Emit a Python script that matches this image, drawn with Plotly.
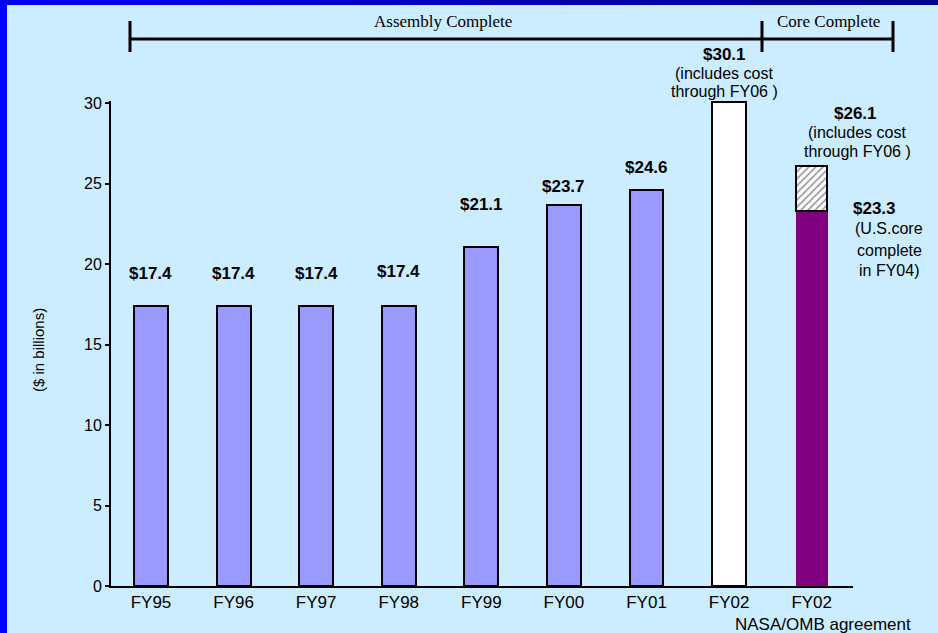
import plotly.graph_objects as go

# ---------------- data ----------------
categories = ["FY95", "FY96", "FY97", "FY98", "FY99", "FY00", "FY01", "FY02", "FY02"]
blue_values = [17.4, 17.4, 17.4, 17.4, 21.1, 23.7, 24.6]      # FY95..FY01
fy02_total = 30.1                                              # FY02 (includes cost through FY06)
agreement_core = 23.3                                          # FY02 NASA/OMB, U.S. core complete in FY04
agreement_total = 26.1                                         # FY02 NASA/OMB incl. cost through FY06
tick_values_y = [0, 5, 10, 15, 20, 25, 30]

# ---------------- layout geometry (pixels) ----------------
W, H = 938, 633
ML, MR, MT, MB = 111, 85, 101, 47
PW = W - ML - MR
PH = H - MT - MB
Y0 = H - MB


def px_x(px):
    return (px - ML) / PW


def px_y(py):
    return (Y0 - py) / PH


BG = "#CCECFF"
BAR_BLUE = "#9999FF"
PURPLE = "#800080"
FONT = "Arial, Liberation Sans, sans-serif"
SERIF = "Times New Roman, Liberation Serif, serif"

x_pos = list(range(len(categories)))

fig = go.Figure()

# FY95 - FY01
fig.add_trace(go.Bar(
    x=x_pos[:len(blue_values)], y=blue_values, width=0.41,
    marker=dict(color=BAR_BLUE, line=dict(color="black", width=2)),
    hoverinfo="skip", showlegend=False))

# FY02 (white)
fig.add_trace(go.Bar(
    x=[x_pos[7]], y=[fy02_total], width=0.41,
    marker=dict(color="white", line=dict(color="black", width=2)),
    hoverinfo="skip", showlegend=False))

# FY02 NASA/OMB agreement: purple core
fig.add_trace(go.Bar(
    x=[x_pos[8]], y=[agreement_core], width=0.39,
    marker=dict(color=PURPLE, line=dict(color=PURPLE, width=0)),
    hoverinfo="skip", showlegend=False))

# hatched part on top
fig.add_trace(go.Bar(
    x=[x_pos[8]], y=[agreement_total - agreement_core], base=[agreement_core], width=0.38,
    marker=dict(color="white", line=dict(color="black", width=2),
                pattern=dict(shape="/", fgcolor="#222222", bgcolor="white", size=5, solidity=0.3)),
    hoverinfo="skip", showlegend=False))

annotations = []


def txt(px, py, text, size=16, family=FONT, xanchor="center", angle=0):
    annotations.append(dict(
        x=px_x(px), y=px_y(py), xref="paper", yref="paper", text=text,
        showarrow=False, xanchor=xanchor, yanchor="middle", textangle=angle,
        font=dict(family=family, size=size, color="black")))


# value labels over blue bars (pixel offsets above bar top)
label_offsets = [33, 33, 33, 35, 42, 18, 23]
for i, v in enumerate(blue_values):
    annotations.append(dict(
        x=x_pos[i], y=v, xref="x", yref="y", text=f"<b>${v}</b>",
        showarrow=False, xanchor="center", yanchor="middle", yshift=label_offsets[i],
        font=dict(family=FONT, size=17, color="black")))

# FY02 label block
txt(724, 55, f"<b>${fy02_total}</b>", size=17)
txt(724, 73, "(includes cost")
txt(724, 91, "through FY06 )")

# agreement total label block
txt(855, 113, f"<b>${agreement_total}</b>", size=17)
txt(857, 132, "(includes cost")
txt(857, 152, "through FY06 )")

# agreement core label block
txt(874, 208, f"<b>${agreement_core}</b>", size=17)
txt(889, 229, "(U.S.core")
txt(889, 250, "complete")
txt(889, 270, "in FY04)")

# sub-caption under last category
txt(823, 624, "NASA/OMB agreement", size=17)

# y-axis title
txt(38, 350, "($ in billions)", size=15, angle=-90)

# bracket labels
txt(443, 22, "Assembly Complete", size=17, family=SERIF)
txt(828, 22, "Core Complete", size=17, family=SERIF)

shapes = []
# bracket
line_style = dict(color="black", width=3)
shapes.append(dict(type="line", xref="paper", yref="paper",
                   x0=px_x(130), x1=px_x(893), y0=px_y(39), y1=px_y(39), line=line_style))
for bx in (130, 762, 893):
    shapes.append(dict(type="line", xref="paper", yref="paper",
                       x0=px_x(bx), x1=px_x(bx), y0=px_y(21), y1=px_y(52), line=line_style))

# frame: left blue strip
shapes.append(dict(type="rect", xref="paper", yref="paper",
                   x0=px_x(-2), x1=px_x(7), y0=px_y(H + 5), y1=px_y(-5),
                   fillcolor="#0000FF", line=dict(width=0), layer="below"))
# frame: top gradient band
nseg = 40
for k in range(nseg):
    x0 = W * k / nseg
    x1 = W * (k + 1) / nseg + 1
    t = (k + 0.5) / nseg
    b = int(round(255 - t * (255 - 128)))
    shapes.append(dict(type="rect", xref="paper", yref="paper",
                       x0=px_x(x0), x1=px_x(x1), y0=px_y(5), y1=px_y(-5),
                       fillcolor=f"rgb(0,0,{b})", line=dict(width=0), layer="below"))

fig.update_layout(
    width=W, height=H,
    margin=dict(l=ML, r=MR, t=MT, b=MB, pad=0),
    paper_bgcolor=BG, plot_bgcolor=BG,
    barmode="overlay", bargap=0,
    showlegend=False,
    font=dict(family=FONT, size=17, color="black"),
    annotations=annotations, shapes=shapes,
    xaxis=dict(
        range=[-0.484, 8.5], tickvals=x_pos, ticktext=categories,
        showline=True, linecolor="black", linewidth=2, ticks="",
        showgrid=False, zeroline=False, fixedrange=True,
        tickfont=dict(family=FONT, size=17, color="black")),
    yaxis=dict(
        range=[0, 30.15], tickvals=tick_values_y,
        showline=True, linecolor="black", linewidth=2,
        ticks="outside", ticklen=4, tickwidth=2, tickcolor="black",
        showgrid=False, zeroline=False, fixedrange=True,
        tickfont=dict(family=FONT, size=16, color="black")),
)

fig.write_html("out.html", config={"displayModeBar": False},
               post_script="document.body.style.margin='0px';document.body.style.padding='0px';")
